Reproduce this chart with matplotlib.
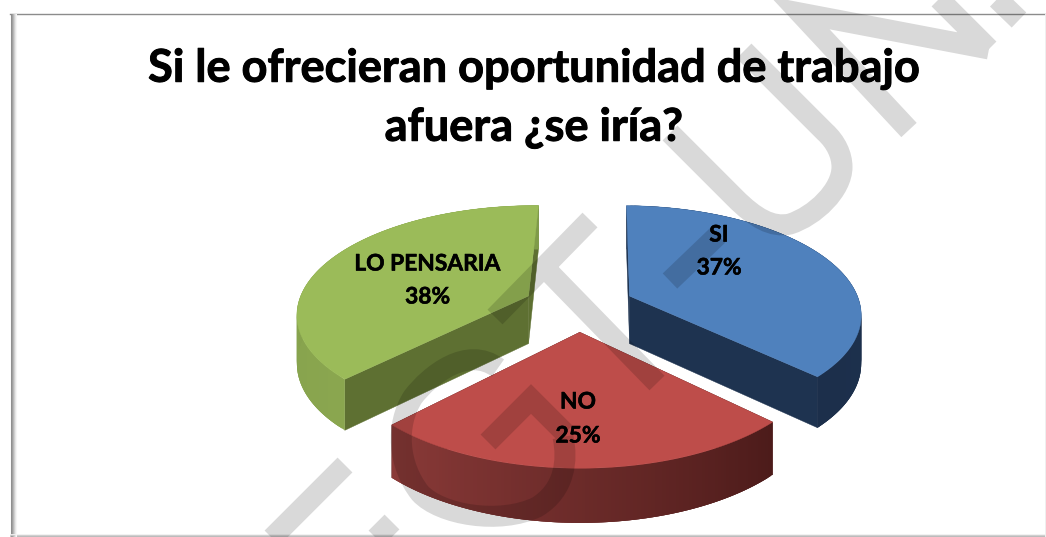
import numpy as np
import matplotlib
matplotlib.use("Agg")
import matplotlib.pyplot as plt
import matplotlib.patheffects as pe
from matplotlib.collections import PolyCollection
from matplotlib.colors import to_rgb
from matplotlib.patches import PathPatch, Polygon
from matplotlib.path import Path

# data
categories = ["SI", "NO", "LO PENSARIA"]
values = [37, 25, 38]
title_lines = ["Si le ofrecieran oportunidad de trabajo", "afuera ¿se iría?"]

TOP_COLORS = ["#4f81bd", "#be4d4a", "#9bbb59"]
SIDE_COLORS = ["#1e3350", "#4c1b1a", "#5e7032"]
# rim colour at the clockwise start / end of each slice
RIM_COLORS = [("#1e3350", "#1c2f4b"), ("#4c1b1a", "#8a3a38"), ("#8aa64f", "#7f9b49")]
LABEL_POS = [(719, 235, 268), (578, 402, 436), (427.5, 264, 297)]

START_DEG = 1.0
EXPLODE = 0.24

# perspective, pixels
CX, CY = 579, 305.7
BX, BY = 231, 106.7
PERSP = 0.15
DEPTH = 48

plt.rcParams["font.family"] = ["Lato", "DejaVu Sans"]


def project(xs, ys, drop=0.0):
    s = 1 / (1 + PERSP * ys)
    return CX + BX * xs * s, CY - BY * ys * s + drop * DEPTH * s ** 0.63


def draw_slice(ax, a0, a1, top, side, rim):
    mid = np.radians((a0 + a1) / 2)
    ox, oy = EXPLODE * np.sin(mid), EXPLODE * np.cos(mid)
    ang = np.radians(np.linspace(a0, a1, 120))
    xs, ys = ox + np.sin(ang), oy + np.cos(ang)

    # cut faces
    for i in (0, -1):
        px, py = project(np.array([ox, xs[i]]), np.array([oy, ys[i]]))
        qx, qy = project(np.array([xs[i], ox]), np.array([ys[i], oy]), 1.0)
        ax.add_patch(Polygon(np.column_stack([np.r_[px, qx], np.r_[py, qy]]),
                             fc=side, ec=side, lw=0.3, zorder=2))

    # outer wall, shaded along the arc; each quad overlaps the next to hide seams
    tx, ty = project(xs, ys)
    bx, by = project(xs, ys, 1.0)
    c0, c1 = np.array(to_rgb(rim[0])), np.array(to_rgb(rim[1]))
    for i in range(len(ang) - 1):
        j = min(i + 3, len(ang) - 1)
        quad = [(tx[i], ty[i]), (tx[j], ty[j]), (bx[j], by[j]), (bx[i], by[i])]
        col = c0 + (c1 - c0) * i / (len(ang) - 2)
        ax.add_collection(PolyCollection([quad], facecolors=[col], edgecolors="none",
                                         linewidths=0, zorder=3))

    # top face
    ax0, ay0 = project(np.array([ox]), np.array([oy]))
    ax.add_patch(Polygon(np.column_stack([np.r_[ax0, tx], np.r_[ay0, ty]]),
                         fc=top, ec=top, lw=0.3, zorder=4))


fig = plt.figure(figsize=(10.46, 5.37), dpi=100)
ax = fig.add_axes([0, 0, 1, 1])
ax.set_xlim(0, 1046)
ax.set_ylim(537, 0)
ax.axis("off")

# ── frame ────────────────────────────────────────────────────────────────────
ax.plot([10, 1046], [13.5, 13.5], color="#8c8c8c", lw=1.0, zorder=1)
for i, g in enumerate(["#8f8f8f", "#a0a0a0", "#b8b8b8", "#d0d0d0", "#e6e6e6", "#f5f5f5"]):
    ax.plot([10.5 + i, 10.5 + i], [14, 537], color=g, lw=0.75, zorder=1)
    ax.plot([10, 1046], [536.5 - i * 0.6, 536.5 - i * 0.6], color=g, lw=0.5, zorder=1)
ax.plot([1045, 1045], [14, 537], color="#efefef", lw=0.7, zorder=1)

# ── pie ──────────────────────────────────────────────────────────────────────
shares = np.array(values) / sum(values) * 360
edges = START_DEG + np.r_[0, np.cumsum(shares)]
for i in range(len(values)):
    draw_slice(ax, edges[i], edges[i+1], TOP_COLORS[i], SIDE_COLORS[i], RIM_COLORS[i])

# ── watermark (one path so crossing strokes do not darken twice) ─────────────
M, L, C = Path.MOVETO, Path.LINETO, Path.CURVE4
wm = [
    # N
    ((909, 130), M), ((800, 13), L), ((989, 49), L),
    ((989, 49), M), ((930, -10), L),
    ((1019, 20), M), ((990, -8), L),
    # U
    ((670, 133), M), ((735, 198), L),
    ((755, 218), C), ((772, 228), C), ((790, 224), C),
    ((815, 216), C), ((842, 190), C), ((842, 167), C),
    ((842, 155), C), ((836, 142), C), ((825, 132), C),
    ((744, 51), L),
    # I
    ((670, 281), M), ((718, 235), L),
    # T
    ((590, 220), M), ((495, 317), L),
    ((545, 268), M), ((657, 383), L),
    # C
    ((498, 368), M),
    ((467, 345), C), ((430, 375), C), ((413, 397), C),
    ((395, 425), C), ((398, 465), C), ((420, 493), C),
    ((440, 515), C), ((500, 525), C), ((537, 507), C),
    ((565, 490), C), ((568, 460), C), ((563, 437), C),
    # A
    ((488, 442), M), ((531, 399), L), ((565, 433), L),
    # lower left
    ((345, 465), M), ((265, 545), L),
    ((392, 522), M), ((365, 549), L),
]
path = Path([p for p, _ in wm], [c for _, c in wm])
ax.add_patch(PathPatch(path, fc="none", ec="black", alpha=0.15, lw=21 * 72 / 100,
                       capstyle="butt", joinstyle="miter", zorder=5))

# ── text ─────────────────────────────────────────────────────────────────────
heavy = [pe.withStroke(linewidth=0.7, foreground="black")]
ax.text(534, 69, title_lines[0], fontsize=32.5, fontweight="bold", ha="center", va="center",
        zorder=6, path_effects=heavy)
ax.text(534, 128, title_lines[1], fontsize=32.5, fontweight="bold", ha="center", va="center",
        zorder=6, path_effects=heavy)

for name, val, (lx, y0, y1) in zip(categories, values, LABEL_POS):
    ax.text(lx, y0, name, fontsize=16.4, fontweight="bold", ha="center", va="center", zorder=6,
            path_effects=[pe.withStroke(linewidth=0.4, foreground="black")])
    ax.text(lx, y1, f"{val}%", fontsize=16.4, fontweight="bold", ha="center", va="center", zorder=6,
            path_effects=[pe.withStroke(linewidth=0.4, foreground="black")])

fig.savefig("out.png", dpi=100)
plt.close(fig)
